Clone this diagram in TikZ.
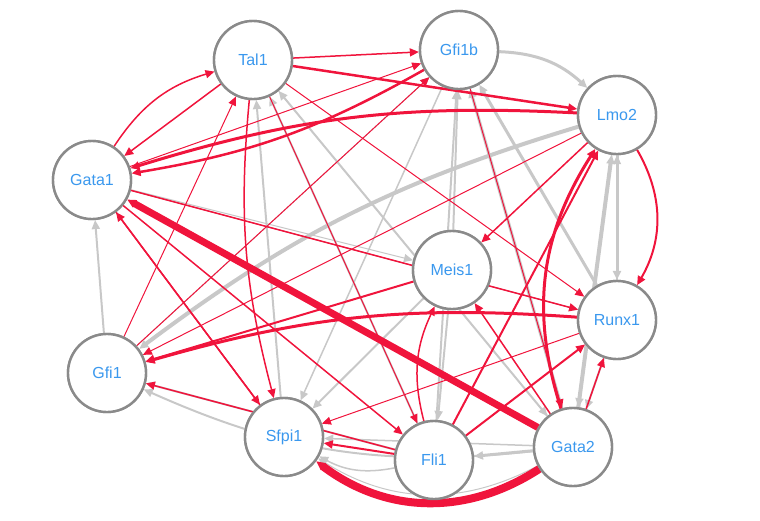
\documentclass[tikz,border=0pt]{standalone}
\usepackage{fontspec}
\setmainfont{Liberation Sans}
\usetikzlibrary{arrows.meta}
\definecolor{rd}{HTML}{F0143C}
\definecolor{gr}{HTML}{C8C8C8}
\definecolor{ng}{HTML}{8A8A8A}
\definecolor{tb}{HTML}{3A98EE}
\begin{document}
\begin{tikzpicture}[x=1pt,y=-1pt,
 gene/.style={circle,draw=ng,line width=2.4pt,fill=white,minimum size=78pt,inner sep=0pt,text=tb,font=\fontsize{16}{16}\selectfont},
 r/.style={draw=rd,-{Triangle[length=9pt,width=8pt]},line width=#1},
 r/.default=1pt,
 g/.style={draw=gr,-{Triangle[length=9pt,width=8pt]},line width=#1},
 g/.default=1pt]
\useasboundingbox (0,0) rectangle (760,520);
\node[gene] (Tal1) at (253,60) {Tal1};
\node[gene] (Gfi1b) at (459,50) {Gfi1b};
\node[gene] (Lmo2) at (617,115) {Lmo2};
\node[gene] (Gata1) at (92,180) {Gata1};
\node[gene] (Meis1) at (452,270) {Meis1};
\node[gene] (Runx1) at (617,320) {Runx1};
\node[gene] (Gfi1) at (107,373) {Gfi1};
\node[gene] (Sfpi1) at (284,437) {Sfpi1};
\node[gene] (Fli1) at (434,460) {Fli1};
\node[gene] (Gata2) at (573,447) {Gata2};
% gray edges
\draw[g=3pt] (Gfi1b) to[bend left=20] (Lmo2);
\draw[g=4pt] (Lmo2) to[bend right=10] (Gfi1);
\draw[g=3pt] (Gata2) to (Gfi1b);
\draw[g=3pt] (Runx1) to (Gfi1b);
\draw[g=2pt] (Fli1) to (Gfi1b);
\draw[g=2pt] (Meis1) to (Gfi1b);
\draw[g=2pt] (Gata2) to (Tal1);
\draw[g=2pt] (Runx1) to (Lmo2);
\draw[g=3pt] (Lmo2) to (Runx1);
\draw[g=4pt] (Gata2) to (Lmo2);
\draw[g=2pt] (Gfi1) to (Gata1);
\draw[g=2pt] (Fli1) to (Gfi1);
\draw[g=2pt] (Gata2) to[bend left=15] (Gfi1);
\draw[g=1.5pt] (Gata2) to (Sfpi1);
\draw[g=3pt] (Gata2) to (Fli1);
\draw[g=1.5pt] (Fli1) to[bend left=20] (Sfpi1);
\draw[g=2pt] (Meis1) to (Fli1);
\draw[g=2pt] (Meis1) to (Sfpi1);
\draw[g=1.5pt] (Gfi1b) to (Sfpi1);
\draw[g=1.5pt] (Lmo2) to (Gata2);
\draw[g=2pt] (Runx1) to (Gata2);
\draw[g=1pt] (Gata1) to (Meis1);
\draw[g=1pt] (Gata1) to (Runx1);
\draw[g=1pt] (Tal1) to (Gata2);
\draw[g=2pt] (Sfpi1) to (Tal1);
\draw[g=2pt] (Fli1) to (Tal1);
\draw[g=1pt] (Gfi1) to (Gfi1b);
\draw[g=1pt] (Gata2) to[bend left=30] (Sfpi1);
% red edges
\draw[r=7pt] (Gata2) to (Gata1);
\draw[r=8pt] (Gata2) to[bend left=35] (Sfpi1);
\draw[r=3pt] (Lmo2) to[bend right=10] (Gata1);
\draw[r=2.5pt] (Tal1) to (Lmo2);
\draw[r=2.5pt] (Gfi1b) to[bend left=10] (Gata1);
\draw[r=1.5pt] (Tal1) to (Gfi1b);
\draw[r=1.5pt] (Tal1) to (Gata1);
\draw[r=1.5pt] (Gata1) to[bend left=20] (Tal1);
\draw[r=2pt] (Lmo2) to[bend left=30] (Runx1);
\draw[r=3pt] (Gata2) to[bend left=25] (Lmo2);
\draw[r=3pt] (Runx1) to[bend right=10] (Gfi1);
\draw[r=2pt] (Fli1) to (Lmo2);
\draw[r=2pt] (Fli1) to (Runx1);
\draw[r=1.5pt] (Gata1) to (Runx1);
\draw[r=1.5pt] (Gata1) to (Fli1);
\draw[r=1.5pt] (Gata1) to (Sfpi1);
\draw[r=1pt] (Tal1) to (Runx1);
\draw[r=1pt] (Tal1) to (Fli1);
\draw[r=1.5pt] (Tal1) to[bend right=10] (Sfpi1);
\draw[r=2pt] (Meis1) to (Gfi1);
\draw[r=1.5pt] (Lmo2) to (Meis1);
\draw[r=1pt] (Gfi1b) to (Gata2);
\draw[r=1.5pt] (Sfpi1) to (Gata1);
\draw[r=1.5pt] (Fli1) to (Gfi1);
\draw[r=2pt] (Fli1) to (Sfpi1);
\draw[r=1.5pt] (Gata2) to (Runx1);
\draw[r=1.5pt] (Gata2) to (Meis1);
\draw[r=1pt] (Lmo2) to (Gfi1);
\draw[r=1pt] (Runx1) to (Sfpi1);
\draw[r=1pt] (Gfi1) to (Gfi1b);
\draw[r=1pt] (Gfi1) to (Tal1);
\draw[r=1.5pt] (Fli1) to[bend left=20] (Meis1);
\draw[r=1pt] (Gata1) to (Gfi1b);
% redraw nodes on top
\foreach \n/\p in {Tal1/{(253,60)},Gfi1b/{(459,50)},Lmo2/{(617,115)},Gata1/{(92,180)},Meis1/{(452,270)},Runx1/{(617,320)},Gfi1/{(107,373)},Sfpi1/{(284,437)},Fli1/{(434,460)},Gata2/{(573,447)}}
  \node[gene] at \p {\n};
\end{tikzpicture}
\end{document}
